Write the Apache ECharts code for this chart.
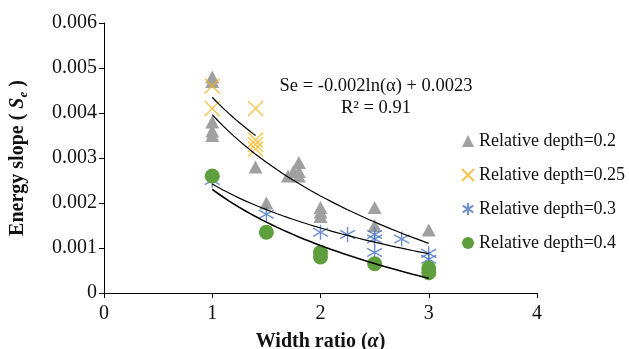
<!DOCTYPE html>
<html>
<head>
<meta charset="utf-8">
<script src="https://cdn.jsdelivr.net/npm/echarts@6/dist/echarts.min.js"></script>
<style>
    html, body { margin: 0; padding: 0; background: #fff; }
    #chart { width: 629px; height: 349px; }
</style>
</head>
<body>
<div id="chart"></div>
<script>
    // 读图估计的数据 (width ratio, energy slope)
    const depth02 = [[1, 0.0048], [1, 0.0047], [1, 0.0038], [1, 0.0036], [1, 0.0035],
        [1.4, 0.0028], [1.5, 0.0020], [1.7, 0.0026], [1.75, 0.0027], [1.8, 0.0029], [1.8, 0.0027], [1.8, 0.0026],
        [2, 0.0019], [2, 0.0018], [2, 0.0017], [2.5, 0.0019], [2.5, 0.0015], [3, 0.0014]]
    const depth025 = [[1, 0.0046], [1, 0.0041], [1.4, 0.0041], [1.4, 0.0034], [1.4, 0.0033], [1.4, 0.0032]]
    const depth03 = [[1, 0.0025], [1.5, 0.00175], [2, 0.00135], [2.25, 0.0013], [2.5, 0.0013], [2.5, 0.0012],
        [2.5, 0.0009], [2.75, 0.0012], [3, 0.00088], [3, 0.00075]]
    const depth04 = [[1, 0.0026], [1.5, 0.00135], [2, 0.0009], [2, 0.0008], [2.5, 0.00065], [3, 0.00055], [3, 0.00045]]
    const seriesNames = ['Relative depth=0.2', 'Relative depth=0.25', 'Relative depth=0.3', 'Relative depth=0.4']
    const yTicks = ['0', '0.001', '0.002', '0.003', '0.004', '0.005', '0.006']
    const equationText = ['Se = -0.002ln(α) + 0.0023', 'R² = 0.91']

    const serif = '"Liberation Serif", "DejaVu Serif", serif'

    // 对数趋势线 y = a*ln(x) + b，最小二乘拟合
    function logTrend(points) {
        const n = points.length
        let sx = 0, sy = 0, sxx = 0, sxy = 0
        points.forEach(p => {
            const l = Math.log(p[0])
            sx += l; sy += p[1]; sxx += l * l; sxy += l * p[1]
        })
        const a = (n * sxy - sx * sy) / (n * sxx - sx * sx)
        const b = (sy - a * sx) / n
        const xs = points.map(p => p[0])
        const x0 = Math.min(...xs), x1 = Math.max(...xs)
        const out = []
        for (let i = 0; i <= 40; i++) {
            const x = x0 + (x1 - x0) * i / 40
            out.push([x, a * Math.log(x) + b])
        }
        return out
    }

    const crossPath = 'path://M0,0L10,10M10,0L0,10'
    const starPath = 'path://M5,0L5,10M0.6,2.2L9.4,7.8M0.6,7.8L9.4,2.2'

    const trend = (data, w) => ({
        type: 'line',
        data: logTrend(data),
        showSymbol: false,
        silent: true,
        z: 3,
        lineStyle: {color: '#000', width: w},
    })

    const option = {
        animation: false,
        backgroundColor: '#fff',
        grid: {left: 104, right: 92, top: 23, bottom: 56, containLabel: false, outerBoundsMode: 'none'},
        legend: {
            orient: 'vertical',
            left: 456,
            top: 127,
            itemWidth: 12,
            itemHeight: 12,
            itemGap: 16,
            data: seriesNames,
            textStyle: {fontFamily: serif, fontSize: 18, color: '#111'},
        },
        xAxis: {
            type: 'value',
            min: 0, max: 4, interval: 1,
            name: '{b|Width ratio (}{bi|α}{b|)}',
            nameLocation: 'middle',
            nameGap: 39,
            nameTextStyle: {
                rich: {
                    b: {fontFamily: serif, fontSize: 20, fontWeight: 'bold', color: '#111'},
                    bi: {fontFamily: serif, fontSize: 20, fontWeight: 'bold', fontStyle: 'italic', color: '#111'},
                }
            },
            splitLine: {show: false},
            axisLine: {onZero: false, lineStyle: {color: '#000', width: 1}},
            axisTick: {show: true, length: 5, lineStyle: {color: '#000'}},
            axisLabel: {fontFamily: serif, fontSize: 20, color: '#111', margin: 11},
        },
        yAxis: {
            type: 'value',
            min: 0, max: 0.006, interval: 0.001,
            name: '{b|Energy slope ( }{bi|S}{sub|e}{b| )}',
            nameLocation: 'middle',
            nameGap: 74,
            nameTextStyle: {
                rich: {
                    b: {fontFamily: serif, fontSize: 20, fontWeight: 'bold', color: '#111', lineHeight: 24},
                    bi: {fontFamily: serif, fontSize: 20, fontWeight: 'bold', fontStyle: 'italic', color: '#111', lineHeight: 24},
                    sub: {fontFamily: serif, fontSize: 13, fontWeight: 'bold', fontStyle: 'italic', color: '#111',
                        verticalAlign: 'bottom', lineHeight: 24, padding: [8, 0, 0, 0]},
                }
            },
            splitLine: {show: false},
            axisLine: {show: true, lineStyle: {color: '#000', width: 1}},
            axisTick: {show: true, length: 5, lineStyle: {color: '#000'}},
            axisLabel: {
                fontFamily: serif, fontSize: 20, color: '#111', margin: 7,
                formatter: (v) => yTicks[Math.round(v / 0.001)]
            },
        },
        graphic: [
            {
                type: 'text', x: 376, y: 86, z: 10,
                style: {text: equationText[0], font: '18.5px ' + serif, fill: '#111', align: 'center', verticalAlign: 'middle'}
            },
            {
                type: 'text', x: 376, y: 108, z: 10,
                style: {text: equationText[1], font: '18.5px ' + serif, fill: '#111', align: 'center', verticalAlign: 'middle'}
            },
        ],
        series: [
            {
                name: seriesNames[0], type: 'scatter', data: depth02,
                symbol: 'triangle', symbolSize: [14, 13],
                itemStyle: {color: '#A0A0A0', opacity: 1},
            },
            {
                name: seriesNames[1], type: 'scatter', data: depth025,
                symbol: crossPath, symbolSize: 15,
                itemStyle: {color: 'rgba(0,0,0,0)', borderColor: '#F2B51E', borderWidth: 1.4},
            },
            {
                name: seriesNames[2], type: 'scatter', data: depth03,
                symbol: starPath, symbolSize: 15,
                itemStyle: {color: 'rgba(0,0,0,0)', borderColor: '#4A74C4', borderWidth: 1.4},
            },
            {
                name: seriesNames[3], type: 'scatter', data: depth04,
                symbol: 'circle', symbolSize: 15,
                itemStyle: {color: '#5F9E3C', opacity: 1},
            },
            trend(depth02, 1.2),
            trend(depth025, 1.2),
            trend(depth03, 1.2),
            trend(depth04, 1.6),
        ]
    }

    const chart = echarts.init(document.getElementById('chart'), null, {renderer: 'canvas'})
    chart.setOption(option)
    window.addEventListener('resize', () => chart.resize())
</script>
</body>
</html>
